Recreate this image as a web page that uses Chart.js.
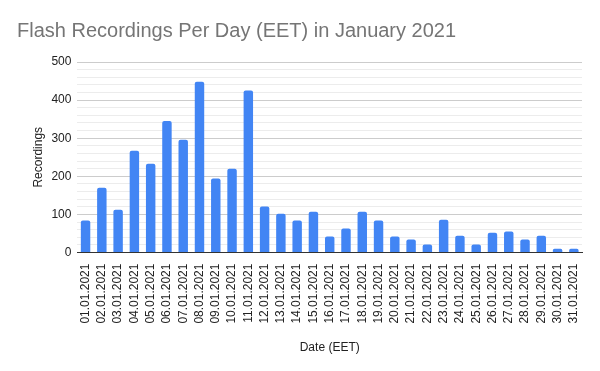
<!DOCTYPE html>
<html>
<head>
<meta charset="utf-8">
<script src="https://cdn.jsdelivr.net/npm/chart.js@4/dist/chart.umd.min.js"></script>
<style>
  html, body { margin: 0; padding: 0; background: #fff; }
  #wrap { width: 600px; height: 371px; }
</style>
</head>
<body>
<div id="wrap"><canvas id="chart"></canvas></div>
<script>
const dates = [
  '01.01.2021', '02.01.2021', '03.01.2021', '04.01.2021', '05.01.2021', '06.01.2021',
  '07.01.2021', '08.01.2021', '09.01.2021', '10.01.2021', '11.01.2021', '12.01.2021',
  '13.01.2021', '14.01.2021', '15.01.2021', '16.01.2021', '17.01.2021', '18.01.2021',
  '19.01.2021', '20.01.2021', '21.01.2021', '22.01.2021', '23.01.2021', '24.01.2021',
  '25.01.2021', '26.01.2021', '27.01.2021', '28.01.2021', '29.01.2021', '30.01.2021',
  '31.01.2021'
];
const recordings = [
  84, 170, 112, 267, 233, 345, 296, 448, 194, 220, 425, 121,
  102, 84, 107, 42, 63, 107, 84, 42, 34, 21, 86, 44,
  21, 52, 55, 34, 44, 10, 10
];
const yTicks = [0, 100, 200, 300, 400, 500];

const font = "'Liberation Sans', Arial, sans-serif";

new Chart(document.getElementById('chart'), {
  type: 'bar',
  data: {
    labels: dates,
    datasets: [{
      label: 'Recordings',
      data: recordings,
      backgroundColor: '#4285f4',
      borderRadius: { topLeft: 2, topRight: 2 },
      borderSkipped: 'bottom',
      barPercentage: 0.58,
      categoryPercentage: 1
    }]
  },
  options: {
    responsive: true,
    maintainAspectRatio: false,
    animation: false,
    layout: {
      padding: { top: 8, right: 18, bottom: 16, left: 17 }
    },
    plugins: {
      legend: { display: false },
      tooltip: { enabled: false },
      title: {
        display: true,
        text: 'Flash Recordings Per Day (EET) in January 2021',
        align: 'start',
        color: '#757575',
        font: { family: font, size: 20, weight: 'normal' },
        padding: { top: 11, bottom: 19 }
      }
    },
    scales: {
      x: {
        grid: { display: false },
        border: { color: '#333333', width: 1 },
        ticks: {
          autoSkip: false,
          maxRotation: 90,
          minRotation: 90,
          color: '#222222',
          font: { family: font, size: 12 },
          padding: 3
        },
        title: {
          display: true,
          text: 'Date (EET)',
          color: '#222222',
          font: { family: font, size: 12 },
          padding: { top: 14, bottom: 0 }
        }
      },
      y: {
        min: 0,
        max: 500,
        border: { display: false },
        grid: {
          drawTicks: false,
          color: ctx => {
            const v = ctx.tick.value;
            if (v === 0) return '#333333';
            return yTicks.includes(v) ? '#cccccc' : '#ececec';
          }
        },
        ticks: {
          stepSize: 20,
          autoSkip: false,
          color: '#222222',
          font: { family: font, size: 12 },
          padding: 6,
          callback: v => (yTicks.includes(v) ? v : '')
        },
        title: {
          display: true,
          text: 'Recordings',
          color: '#222222',
          font: { family: font, size: 12 },
          padding: { top: 14, bottom: 0 }
        }
      }
    }
  }
});
</script>
</body>
</html>
